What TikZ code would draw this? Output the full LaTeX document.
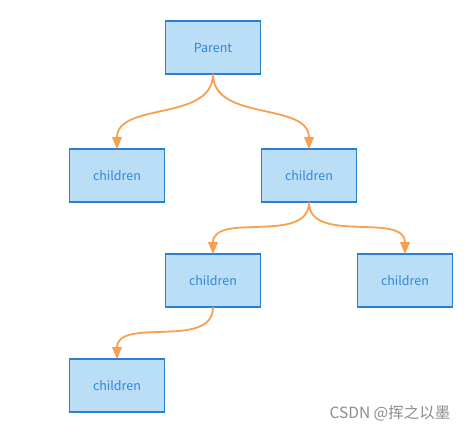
\documentclass[tikz,border=0pt]{standalone}
\usepackage{fontspec}
\setmainfont{Noto Sans CJK SC}
\usepackage{tikz}
\usetikzlibrary{positioning,arrows.meta}

\definecolor{boxfill}{HTML}{BBDEF7}
\definecolor{boxline}{HTML}{2A7FD6}
\definecolor{boxtext}{HTML}{3385D8}
\definecolor{linkcol}{HTML}{F9A050}

\begin{document}
\begin{tikzpicture}[
        x=1bp, y=-1bp,
        box/.style={
            rectangle,
            minimum width=95bp,
            minimum height=53bp,
            outer sep=0pt,
            draw=boxline, fill=boxfill,
            line width=1.8bp,
            text=boxtext,
            font=\fontsize{12.5bp}{15bp}\selectfont
        },
        arrow/.style={-{Triangle[length=12bp,width=9.5bp]}, draw=linkcol,
            line width=1.8bp, out=-90, in=90}
    ]
    \useasboundingbox (0,0) rectangle (476,432);

    \node[box] (parent) at (213,47.7) {Parent};

    \node[box, below left=75bp and 1bp of parent] (childL) {children};
    \node[box, below right=75bp and 1bp of parent] (childR) {children};

    \node[box, below left=52bp and 1bp of childR] (childRL) {children};
    \node[box, below right=52bp and 1bp of childR] (childRR) {children};

    \node[box, below left=52bp and 1bp of childRL] (childRLL) {children};

    \draw[arrow] (parent.south) to (childL.north);
    \draw[arrow] (parent.south) to (childR.north);
    \draw[arrow] (childR.south) to (childRL.north);
    \draw[arrow] (childR.south) to (childRR.north);
    \draw[arrow] (childRL.south) to (childRLL.north);

    \node[text=black!45, font=\fontsize{15.5bp}{18bp}\selectfont] (mark) at (390,413)
        {CSDN @挥之以墨};

\end{tikzpicture}
\end{document}
